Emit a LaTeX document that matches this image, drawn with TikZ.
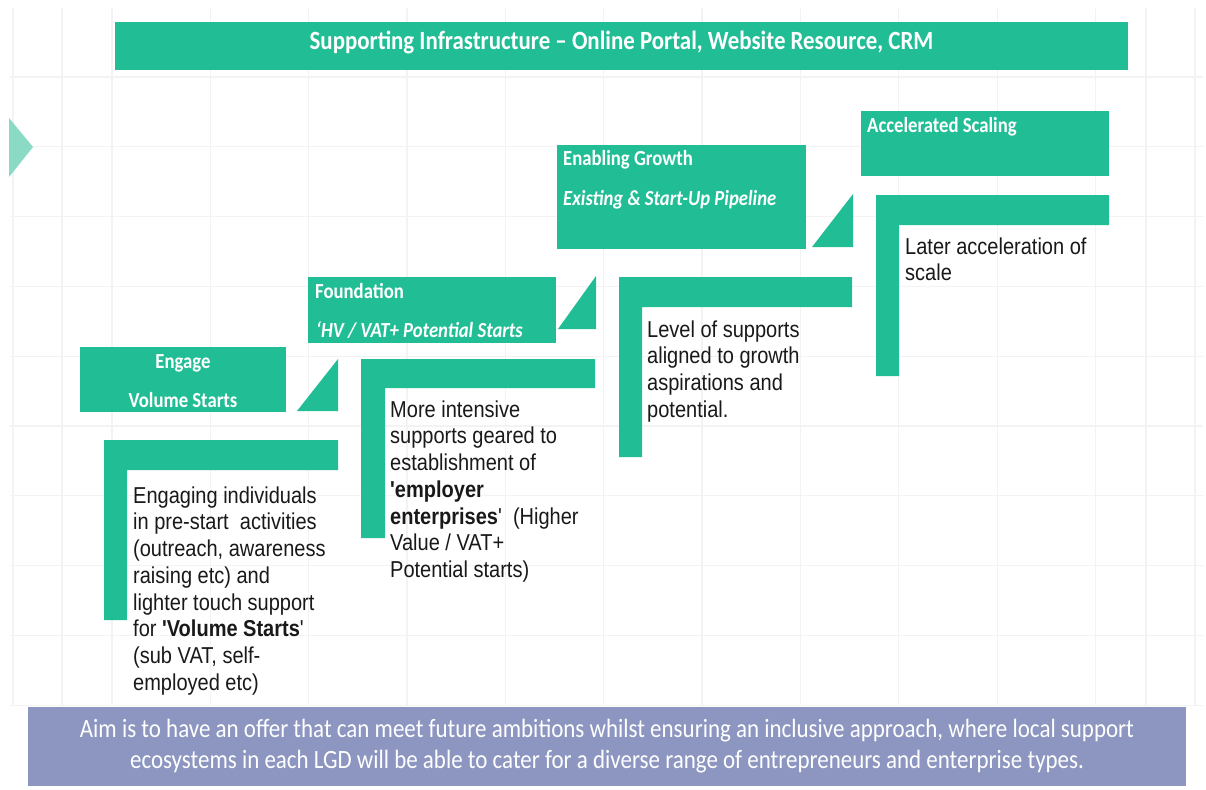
\documentclass[tikz,border=0pt]{standalone}
\usepackage{fontspec}
\newfontfamily\calib[FakeStretch=0.87]{Carlito}
\newfontfamily\arialf[FakeStretch=0.87]{Liberation Sans}
\definecolor{tealA}{RGB}{33,190,150}
\definecolor{tealL}{RGB}{138,218,198}
\definecolor{slateA}{RGB}{140,150,192}
\definecolor{gridA}{RGB}{243,243,243}
\tikzset{
  tealfill/.style={fill=tealA, draw=none},
  gridline/.style={draw=gridA, line width=1.3pt},
  lbl/.style={inner sep=0, text=white, font=\calib\bfseries\fontsize{21.5}{24}\selectfont},
  lblit/.style={lbl, font=\calib\bfseries\itshape\fontsize{21.5}{24}\selectfont},
  bodytext/.style={inner sep=0, anchor=north west, align=left, text=black!90,
    font=\arialf\fontsize{23}{26.7}\selectfont},
}
\newcommand{\topstrut}{\rule{0pt}{20pt}}
\begin{document}
\begin{tikzpicture}[x=1pt,y=-1pt]
\useasboundingbox (0,0) rectangle (1206,789);
\fill[white] (0,0) rectangle (1206,789);
% grid
\foreach \xx in {13,62,1146,1195} \draw[gridline] (\xx,8) -- (\xx,706);
\foreach \k in {0,...,10} \draw[gridline] ({112+\k*98.35},8) -- ({112+\k*98.35},706);
\foreach \k in {0,...,9} \draw[gridline] (10,{77+\k*69.8}) -- (1203,{77+\k*69.8});
% header
\fill[tealfill] (115,22) rectangle (1128,70);
\node[lbl, font=\calib\bfseries\fontsize{26.3}{28}\selectfont, anchor=base] (hdr) at (621.5,50)
  {Supporting Infrastructure – Online Portal, Website Resource, CRM};
% left arrow triangle
\fill[tealL] (9,118) -- (33,147) -- (9,177) -- cycle;
% step 1
\fill[tealfill] (80,347) rectangle (286,412);
\node[lbl, anchor=base] (engage) at (183,368) {Engage};
\node[lbl, anchor=base] (volume) at (183,407) {Volume Starts};
\fill[tealfill] (297,411) -- (338,411) -- (338,359) -- cycle;
\fill[tealfill] (104,440) -- (338,440) -- (338,470) -- (127,470) -- (127,620) -- (104,620) -- cycle;
\node[bodytext] (t1) at (133,483) {\topstrut Engaging individuals\\
in pre-start\ \ activities\\
(outreach, awareness\\
raising etc) and\\
lighter touch support\\
for \textbf{'Volume Starts}'\\
(sub VAT, self-\\
employed etc)};
% step 2
\fill[tealfill] (308,277) rectangle (556,343);
\node[lbl, anchor=base west] (found) at (315,298) {Foundation};
\node[lblit, anchor=base west] (hv) at (316,337) {‘HV / VAT+ Potential Starts};
\fill[tealfill] (558,329) -- (596,329) -- (596,276) -- cycle;
\fill[tealfill] (361,359) -- (595,359) -- (595,388) -- (385,388) -- (385,538) -- (361,538) -- cycle;
\node[bodytext] (t2) at (390,397) {\topstrut More intensive\\
supports geared to\\
establishment of\\
\textbf{'employer}\\
\textbf{enterprises}'\ \ (Higher\\
Value / VAT+\\
Potential starts)};
% step 3
\fill[tealfill] (557,145) rectangle (806,249);
\node[lbl, anchor=base west] (enab) at (563,165) {Enabling Growth};
\node[lblit, anchor=base west] (exist) at (563,205) {Existing \& Start-Up Pipeline};
\fill[tealfill] (812,247) -- (853,247) -- (853,194) -- cycle;
\fill[tealfill] (619,277) -- (852,277) -- (852,307) -- (642,307) -- (642,457) -- (619,457) -- cycle;
\node[bodytext] (t3) at (647,317) {\topstrut Level of supports\\
aligned to growth\\
aspirations and\\
potential.};
% step 4
\fill[tealfill] (861,111) rectangle (1109,176);
\node[lbl, anchor=base west] (accel) at (867,132) {Accelerated Scaling};
\fill[tealfill] (876,195) -- (1109,195) -- (1109,225) -- (899,225) -- (899,376) -- (876,376) -- cycle;
\node[bodytext] (t4) at (905,234) {\topstrut Later acceleration of\\
scale};
% bottom bar
\fill[slateA] (28,707) rectangle (1186,786);
\node[inner sep=0, anchor=north, align=center, text=white,
  font=\calib\fontsize{26.4}{31}\selectfont] (aim) at (607,717)
  {\topstrut Aim is to have an offer that can meet future ambitions whilst ensuring an inclusive approach, where local support\\
  ecosystems in each LGD will be able to cater for a diverse range of entrepreneurs and enterprise types.};
\end{tikzpicture}
\end{document}
